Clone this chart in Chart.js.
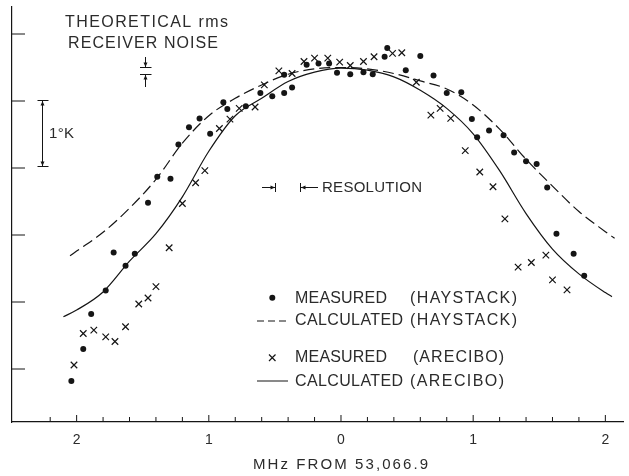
<!DOCTYPE html>
<html>
<head>
<meta charset="utf-8">
<script src="https://cdn.jsdelivr.net/npm/chart.js@4"></script>
<style>
  body { margin: 0; background: #fff; overflow: hidden; }
</style>
</head>
<body>
<canvas id="chart" width="629" height="476"></canvas>
<script>
// offsets in MHz from 53,066.9 (left side negative), intensity in deg K
const hayMeasX = [-2.04,-1.95,-1.89,-1.78,-1.72,-1.63,-1.56,-1.46,-1.39,-1.29,-1.23,-1.15,-1.07,-0.99,-0.89,-0.86,-0.72,-0.61,-0.52,-0.43,-0.37,-0.43,-0.26,-0.17,-0.09,-0.03,0.07,0.17,0.24,0.33,0.35,0.49,0.60,0.70,0.80,0.91,0.99,1.03,1.12,1.23,1.31,1.40,1.48,1.56,1.63,1.76,1.84];
const hayMeasY = [0.82,1.30,1.82,2.17,2.74,2.54,2.72,3.48,3.87,3.84,4.35,4.61,4.74,4.51,4.98,4.88,4.92,5.12,5.07,5.12,5.20,5.39,5.54,5.56,5.56,5.42,5.40,5.43,5.40,5.66,5.79,5.46,5.67,5.38,5.12,5.13,4.73,4.46,4.56,4.49,4.23,4.10,4.06,3.71,3.02,2.72,2.39];

const areMeasX = [-2.02,-1.95,-1.87,-1.78,-1.71,-1.63,-1.53,-1.46,-1.40,-1.30,-1.20,-1.10,-1.03,-0.92,-0.84,-0.77,-0.65,-0.58,-0.47,-0.37,-0.28,-0.20,-0.10,-0.01,0.07,0.17,0.25,0.39,0.46,0.57,0.68,0.75,0.83,0.94,1.05,1.15,1.24,1.34,1.44,1.55,1.60,1.71];
const areMeasY = [1.06,1.53,1.58,1.48,1.41,1.63,1.97,2.06,2.23,2.81,3.47,3.78,3.96,4.59,4.73,4.89,4.91,5.24,5.45,5.41,5.59,5.64,5.64,5.58,5.53,5.59,5.66,5.71,5.72,5.28,4.79,4.89,4.74,4.26,3.94,3.72,3.24,2.52,2.59,2.70,2.33,2.18];

const hayCalcX = [-2.05,-2.0,-1.8,-1.6,-1.4,-1.2,-1.0,-0.8,-0.6,-0.4,-0.2,0,0.2,0.4,0.6,0.8,1.0,1.2,1.4,1.6,1.8,2.0,2.07];
const hayCalcY = [2.69,2.76,3.04,3.40,3.83,4.37,4.78,5.04,5.24,5.40,5.48,5.50,5.48,5.41,5.30,5.18,4.94,4.58,4.13,3.73,3.35,3.05,2.95];

const areCalcX = [-2.1,-2.0,-1.8,-1.6,-1.4,-1.2,-1.0,-0.8,-0.6,-0.4,-0.2,0,0.2,0.4,0.6,0.8,1.0,1.2,1.4,1.6,1.8,2.0,2.05];
const areCalcY = [1.78,1.88,2.15,2.61,3.02,3.57,4.25,4.78,5.04,5.29,5.43,5.49,5.46,5.36,5.16,4.89,4.51,3.96,3.32,2.79,2.42,2.14,2.08];

const xTickValues = [-2, -1, 0, 1, 2];
const xTickLabels = ["2", "1", "0", "1", "2"];
const yTickValues = [1, 2, 3, 4, 5, 6];

const ink = "#151515";
const textInk = "#2b2b2b";
const FONT = '"Liberation Sans", Arial, sans-serif';
const pts = (xs, ys) => xs.map((x, i) => ({ x, y: ys[i] }));

// draw text stretched between x0 and x1 (the old lettering is widely spaced)
function fitText(ctx, text, x0, x1, y, size) {
  ctx.font = size + "px " + FONT;
  ctx.fillStyle = textInk;
  ctx.letterSpacing = "0px";
  const w = ctx.measureText(text).width;
  const n = [...text].length;
  const ls = n > 1 ? (x1 - x0 - w) / (n - 1) : 0;
  ctx.letterSpacing = ls + "px";
  ctx.textAlign = "left";
  ctx.textBaseline = "middle";
  ctx.fillText(text, x0, y);
  ctx.letterSpacing = "0px";
  ctx.fillStyle = ink;
}

function arrow(ctx, x1, y1, x2, y2) {
  const a = Math.atan2(y2 - y1, x2 - x1), h = 4.5, s = 2;
  ctx.beginPath();
  ctx.moveTo(x1, y1);
  ctx.lineTo(x2, y2);
  ctx.stroke();
  ctx.beginPath();
  ctx.moveTo(x2, y2);
  ctx.lineTo(x2 - h * Math.cos(a) + s * Math.sin(a), y2 - h * Math.sin(a) - s * Math.cos(a));
  ctx.lineTo(x2 - h * Math.cos(a) - s * Math.sin(a), y2 - h * Math.sin(a) + s * Math.cos(a));
  ctx.closePath();
  ctx.fill();
}

const inkPlugin = {
  id: "ink",
  afterDraw(chart) {
    const ctx = chart.ctx;
    const xs = chart.scales.x, ys = chart.scales.y;
    const area = chart.chartArea;
    ctx.save();
    ctx.strokeStyle = ink;
    ctx.fillStyle = ink;
    ctx.lineWidth = 1;

    // inward tick marks
    for (let k = -11; k <= 10; k++) {
      const px = xs.getPixelForValue(k * 0.2);
      const len = k % 5 === 0 ? 7 : 5;
      ctx.beginPath();
      ctx.moveTo(px, area.bottom);
      ctx.lineTo(px, area.bottom - len);
      ctx.stroke();
    }
    yTickValues.forEach(v => {
      const py = ys.getPixelForValue(v);
      ctx.beginPath();
      ctx.moveTo(area.left, py);
      ctx.lineTo(area.left + 13, py);
      ctx.stroke();
    });

    // receiver noise note
    fitText(ctx, "THEORETICAL rms", 65, 228, 23, 16);
    fitText(ctx, "RECEIVER NOISE", 68, 218, 44, 16);
    ctx.beginPath();
    ctx.moveTo(140, 67.5); ctx.lineTo(151.5, 67.5);
    ctx.moveTo(140, 74.5); ctx.lineTo(151.5, 74.5);
    ctx.stroke();
    arrow(ctx, 145.5, 57, 145.5, 67);
    arrow(ctx, 145.5, 87, 145.5, 75);

    // 1 deg K bracket
    ctx.beginPath();
    ctx.moveTo(37.5, 100.5); ctx.lineTo(48.5, 100.5);
    ctx.moveTo(37.5, 166.5); ctx.lineTo(48.5, 166.5);
    ctx.stroke();
    arrow(ctx, 42.5, 134, 42.5, 101);
    arrow(ctx, 42.5, 134, 42.5, 166);
    fitText(ctx, "1°K", 49, 74, 134, 15);

    // resolution marker
    arrow(ctx, 262, 187.5, 275, 187.5);
    arrow(ctx, 318, 187.5, 301, 187.5);
    ctx.beginPath();
    ctx.moveTo(275.5, 183); ctx.lineTo(275.5, 192);
    ctx.moveTo(300.5, 183); ctx.lineTo(300.5, 192);
    ctx.stroke();
    fitText(ctx, "RESOLUTION", 322, 422, 187.5, 15);

    // key
    ctx.beginPath();
    ctx.arc(272.3, 297.7, 3, 0, Math.PI * 2);
    ctx.fill();
    ctx.lineWidth = 1.2;
    ctx.setLineDash([7, 4]);
    ctx.beginPath();
    ctx.moveTo(257, 321); ctx.lineTo(288, 321);
    ctx.stroke();
    ctx.setLineDash([]);
    ctx.beginPath();
    ctx.moveTo(269, 354.5); ctx.lineTo(275.5, 361);
    ctx.moveTo(275.5, 354.5); ctx.lineTo(269, 361);
    ctx.moveTo(257, 381); ctx.lineTo(288, 381);
    ctx.stroke();
    fitText(ctx, "MEASURED", 295, 387, 298.5, 16);
    fitText(ctx, "(HAYSTACK)", 410, 517, 298.5, 16);
    fitText(ctx, "CALCULATED", 295, 403, 321, 16);
    fitText(ctx, "(HAYSTACK)", 410, 517, 321, 16);
    fitText(ctx, "MEASURED", 295, 387, 358, 16);
    fitText(ctx, "(ARECIBO)", 413, 504, 358, 16);
    fitText(ctx, "CALCULATED", 295, 403, 381.5, 16);
    fitText(ctx, "(ARECIBO)", 410, 504, 381.5, 16);

    // axis title
    fitText(ctx, "MHz FROM 53,066.9", 253, 428, 465, 15);
    ctx.restore();
  }
};

new Chart(document.getElementById("chart"), {
  type: "scatter",
  data: {
    datasets: [
      {
        label: "CALCULATED (HAYSTACK)",
        type: "line",
        data: pts(hayCalcX, hayCalcY),
        borderColor: ink,
        borderWidth: 1.2,
        borderDash: [11, 5],
        pointRadius: 0,
        fill: false,
        cubicInterpolationMode: "monotone"
      },
      {
        label: "CALCULATED (ARECIBO)",
        type: "line",
        data: pts(areCalcX, areCalcY),
        borderColor: ink,
        borderWidth: 1.2,
        pointRadius: 0,
        fill: false,
        cubicInterpolationMode: "monotone"
      },
      {
        label: "MEASURED (HAYSTACK)",
        data: pts(hayMeasX, hayMeasY),
        pointStyle: "circle",
        pointRadius: 3,
        backgroundColor: ink,
        borderColor: ink,
        borderWidth: 0
      },
      {
        label: "MEASURED (ARECIBO)",
        data: pts(areMeasX, areMeasY),
        pointStyle: "crossRot",
        pointRadius: 4.6,
        borderColor: ink,
        borderWidth: 1.2
      }
    ]
  },
  options: {
    responsive: false,
    animation: false,
    devicePixelRatio: 1,
    layout: { padding: { left: 12, right: 2, top: 7, bottom: 0 } },
    plugins: { legend: { display: false }, tooltip: { enabled: false } },
    scales: {
      x: {
        type: "linear",
        min: -2.489,
        max: 2.135,
        grid: { display: false, drawTicks: false },
        border: { color: ink, width: 1.2 },
        afterBuildTicks: s => { s.ticks = xTickValues.map(v => ({ value: v })); },
        afterFit: s => { s.height = 54; },
        ticks: {
          autoSkip: false,
          maxRotation: 0,
          padding: 10,
          color: textInk,
          font: { size: 14, family: FONT },
          callback: v => xTickLabels[xTickValues.indexOf(v)]
        }
      },
      y: {
        type: "linear",
        min: 0.209,
        max: 6.403,
        grid: { display: false, drawTicks: false },
        border: { color: ink, width: 1.2 },
        afterBuildTicks: s => { s.ticks = yTickValues.map(v => ({ value: v })); },
        afterFit: s => { s.width = 0; },
        ticks: { display: false }
      }
    }
  },
  plugins: [inkPlugin]
});
</script>
</body>
</html>
